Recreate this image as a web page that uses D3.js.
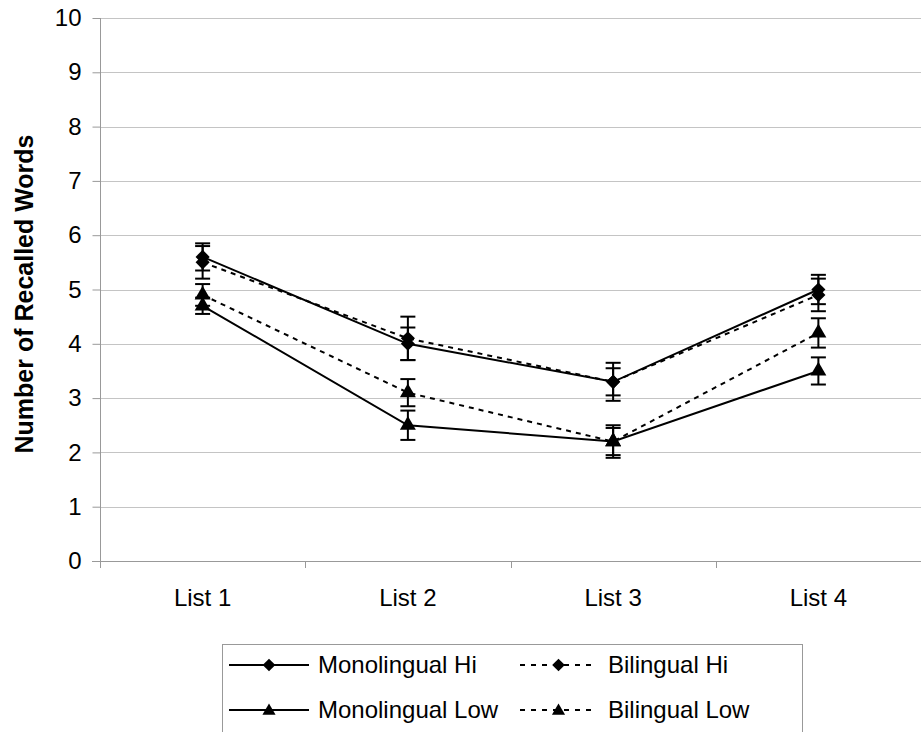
<!DOCTYPE html>
<html>
<head>
<meta charset="utf-8">
<script src="https://cdn.jsdelivr.net/npm/d3@7"></script>
<style>
  body { margin: 0; background: #fff; }
  svg { display: block; font-family: "Liberation Sans", Arial, sans-serif; }
</style>
</head>
<body>
<svg id="chart" width="921" height="732"></svg>
<script>
// data
var lists = ["List 1", "List 2", "List 3", "List 4"];
var yTicks = [0, 1, 2, 3, 4, 5, 6, 7, 8, 9, 10];

var monoHi = [5.6, 4.0, 3.3, 5.0];
var monoHiErr = [0.25, 0.3, 0.35, 0.27];
var biHi = [5.5, 4.1, 3.3, 4.9];
var biHiErr = [0.3, 0.4, 0.25, 0.3];
var monoLow = [4.7, 2.5, 2.2, 3.5];
var monoLowErr = [0.15, 0.27, 0.3, 0.25];
var biLow = [4.9, 3.1, 2.2, 4.2];
var biLowErr = [0.2, 0.25, 0.25, 0.27];

var series = [
  {name: "Monolingual Hi", vals: monoHi, err: monoHiErr, dash: null, shape: "diamond"},
  {name: "Bilingual Hi", vals: biHi, err: biHiErr, dash: "5,5", shape: "diamond"},
  {name: "Monolingual Low", vals: monoLow, err: monoLowErr, dash: null, shape: "triangle"},
  {name: "Bilingual Low", vals: biLow, err: biLowErr, dash: "5,5", shape: "triangle"}
];

var svg = d3.select("#chart");
var x = d3.scaleBand().domain(lists).range([100, 921]);
var y = d3.scaleLinear().domain([0, 10]).range([561, 18]);
var font = "Liberation Sans, Arial, sans-serif";

// diamond = square turned 45 degrees, triangle as is
function marker(shape, size) {
  return shape === "diamond" ? d3.symbol(d3.symbolSquare, size)() : d3.symbol(d3.symbolTriangle, size)();
}
function markerRot(shape) { return shape === "diamond" ? " rotate(45)" : ""; }

// gridlines
svg.append("g").selectAll("line").data(yTicks.slice(1)).join("line")
  .attr("x1", 100).attr("x2", 921)
  .attr("y1", d => Math.round(y(d)) + 0.5).attr("y2", d => Math.round(y(d)) + 0.5)
  .attr("stroke", "#c4c4c4").attr("stroke-width", 1);

// y axis
var yAxis = svg.append("g").attr("transform", "translate(100.5,0)")
  .call(d3.axisLeft(y).tickValues(yTicks).tickSize(8).tickPadding(11));
yAxis.select(".domain").attr("stroke", "#999").attr("d", "M0,18V568");
yAxis.selectAll(".tick line").attr("stroke", "#999");
yAxis.selectAll(".tick text").attr("font-size", 24).attr("fill", "#000").attr("font-family", font);

// x axis
var xAxis = svg.append("g").attr("transform", "translate(0,561.5)")
  .call(d3.axisBottom(x).tickSize(0).tickPadding(27));
xAxis.select(".domain").attr("stroke", "#999").attr("d", "M92,0H921");
xAxis.selectAll(".tick text").attr("font-size", 24).attr("fill", "#000").attr("font-family", font);
svg.append("g").selectAll("line").data(lists).join("line")
  .attr("x1", d => Math.round(x(d)) + 0.5).attr("x2", d => Math.round(x(d)) + 0.5)
  .attr("y1", 561).attr("y2", 568)
  .attr("stroke", "#999");

// y title
svg.append("text")
  .attr("transform", "translate(33,294) rotate(-90)")
  .attr("text-anchor", "middle")
  .attr("font-size", 25).attr("font-weight", "bold")
  .text("Number of Recalled Words");

var cx = d => x(d) + x.bandwidth() / 2;

// error bars
series.forEach(function(s) {
  var g = svg.append("g").attr("stroke", "#000").attr("stroke-width", 2);
  lists.forEach(function(l, i) {
    var hi = y(s.vals[i] + s.err[i]), lo = y(s.vals[i] - s.err[i]);
    g.append("line").attr("x1", cx(l)).attr("x2", cx(l)).attr("y1", hi).attr("y2", lo);
    g.append("line").attr("x1", cx(l) - 7.5).attr("x2", cx(l) + 7.5).attr("y1", hi).attr("y2", hi);
    g.append("line").attr("x1", cx(l) - 7.5).attr("x2", cx(l) + 7.5).attr("y1", lo).attr("y2", lo);
  });
});

// lines
var line = d3.line().x((d, i) => cx(lists[i])).y(d => y(d));
series.forEach(function(s) {
  svg.append("path").datum(s.vals)
    .attr("d", line)
    .attr("fill", "none").attr("stroke", "#000").attr("stroke-width", 2)
    .attr("stroke-dasharray", s.dash);
});

// markers
series.forEach(function(s) {
  var size = s.shape === "diamond" ? 100 : 110;
  svg.append("g").selectAll("path").data(s.vals).join("path")
    .attr("d", marker(s.shape, size))
    .attr("transform", (d, i) => "translate(" + cx(lists[i]) + "," + y(d) + ")" + markerRot(s.shape))
    .attr("fill", "#000");
});

// legend
var lg = svg.append("g");
lg.append("rect").attr("x", 222.5).attr("y", 644.5).attr("width", 580).attr("height", 120)
  .attr("fill", "#fff").attr("stroke", "#999");
var legPos = [[229, 665], [520, 665], [229, 710], [520, 710]];
series.forEach(function(s, i) {
  var p = legPos[i];
  var len = s.dash ? 77 : 80;
  var item = lg.append("g").attr("transform", "translate(" + p[0] + "," + p[1] + ")");
  item.append("line").attr("x1", 0).attr("x2", len).attr("y1", 0).attr("y2", 0)
    .attr("stroke", "#000").attr("stroke-width", 2).attr("stroke-dasharray", s.dash ? "5,6" : null);
  item.append("path").attr("d", marker(s.shape, s.shape === "diamond" ? 80 : 75))
    .attr("transform", "translate(" + (len / 2) + "," + (s.shape === "triangle" ? 1 : 0) + ")" + markerRot(s.shape));
  item.append("text").attr("x", s.dash ? len + 11 : len + 9).attr("y", 8)
    .attr("font-size", 24).text(s.name);
});
</script>
</body>
</html>
